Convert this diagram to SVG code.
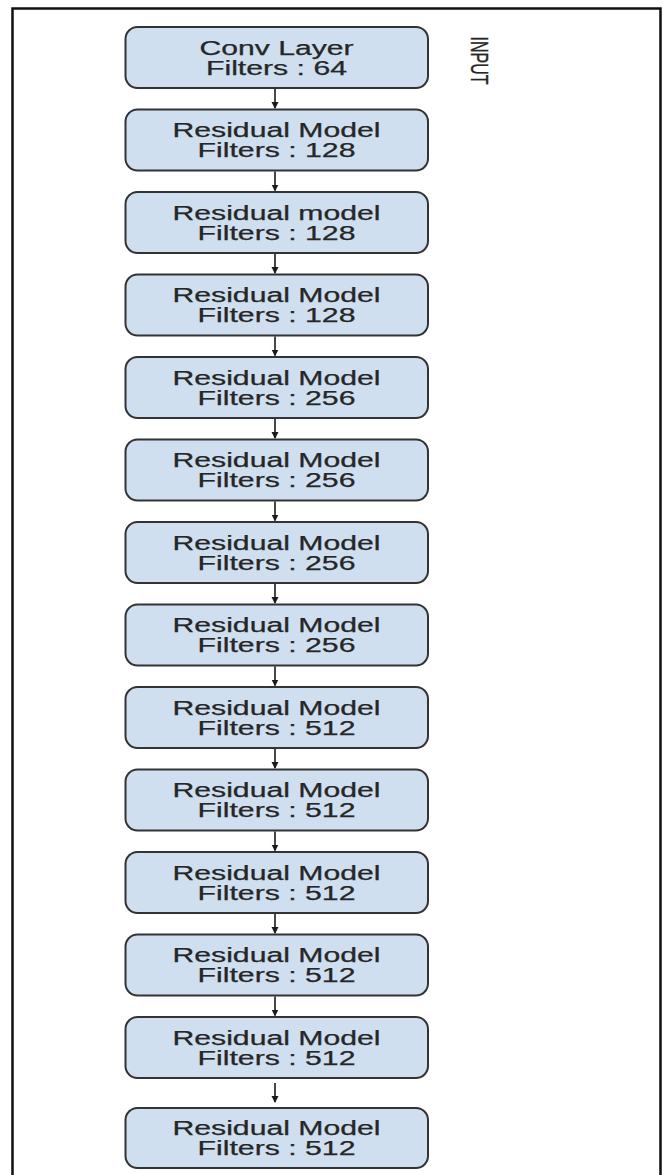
<svg xmlns="http://www.w3.org/2000/svg" width="665" height="1175" viewBox="0 0 665 1175">
<style>
.box{fill:#cfdff0;stroke:#333333;stroke-width:2}
.t{font-family:"Liberation Sans",Arial,sans-serif;font-size:19.5px;fill:#262626;text-anchor:middle;stroke:#262626;stroke-width:0.25}
.c{stroke:#1a1a1a;stroke-width:1.6;fill:none;marker-end:url(#ah)}
</style>
<defs>
<marker id="ah" markerWidth="8" markerHeight="8" refX="6" refY="3.5" orient="auto" markerUnits="userSpaceOnUse">
<path d="M0,0 L7,3.5 L0,7 z" fill="#1a1a1a"/>
</marker>
</defs>
<rect width="665" height="1175" fill="#ffffff"/>
<path d="M12.5,1180 V8.5 H660.5 V1180" fill="none" stroke="#111" stroke-width="2.5"/>
<g id="input-label">
<text class="t" style="font-size:16px" transform="translate(479.5,60.5) scale(1.55,1) rotate(90)" x="0" y="5.7">INPUT</text>
</g>
<g id="n1"><rect class="box" x="125.5" y="27" width="302.5" height="61" rx="12"/>
<text class="t" x="276.5" y="54.5" textLength="154" lengthAdjust="spacingAndGlyphs">Conv Layer</text>
<text class="t" x="276.5" y="74.5" textLength="141" lengthAdjust="spacingAndGlyphs">Filters : 64</text></g>
<g id="n2"><rect class="box" x="125.5" y="109.5" width="302.5" height="61" rx="12"/>
<text class="t" x="276.5" y="137" textLength="208" lengthAdjust="spacingAndGlyphs">Residual Model</text>
<text class="t" x="276.5" y="157" textLength="158" lengthAdjust="spacingAndGlyphs">Filters : 128</text></g>
<g id="n3"><rect class="box" x="125.5" y="192" width="302.5" height="61" rx="12"/>
<text class="t" x="276.5" y="219.5" textLength="208" lengthAdjust="spacingAndGlyphs">Residual model</text>
<text class="t" x="276.5" y="239.5" textLength="158" lengthAdjust="spacingAndGlyphs">Filters : 128</text></g>
<g id="n4"><rect class="box" x="125.5" y="274.5" width="302.5" height="61" rx="12"/>
<text class="t" x="276.5" y="302" textLength="208" lengthAdjust="spacingAndGlyphs">Residual Model</text>
<text class="t" x="276.5" y="322" textLength="158" lengthAdjust="spacingAndGlyphs">Filters : 128</text></g>
<g id="n5"><rect class="box" x="125.5" y="357" width="302.5" height="61" rx="12"/>
<text class="t" x="276.5" y="384.5" textLength="208" lengthAdjust="spacingAndGlyphs">Residual Model</text>
<text class="t" x="276.5" y="404.5" textLength="158" lengthAdjust="spacingAndGlyphs">Filters : 256</text></g>
<g id="n6"><rect class="box" x="125.5" y="439.5" width="302.5" height="61" rx="12"/>
<text class="t" x="276.5" y="467" textLength="208" lengthAdjust="spacingAndGlyphs">Residual Model</text>
<text class="t" x="276.5" y="487" textLength="158" lengthAdjust="spacingAndGlyphs">Filters : 256</text></g>
<g id="n7"><rect class="box" x="125.5" y="522" width="302.5" height="61" rx="12"/>
<text class="t" x="276.5" y="549.5" textLength="208" lengthAdjust="spacingAndGlyphs">Residual Model</text>
<text class="t" x="276.5" y="569.5" textLength="158" lengthAdjust="spacingAndGlyphs">Filters : 256</text></g>
<g id="n8"><rect class="box" x="125.5" y="604.5" width="302.5" height="61" rx="12"/>
<text class="t" x="276.5" y="632" textLength="208" lengthAdjust="spacingAndGlyphs">Residual Model</text>
<text class="t" x="276.5" y="652" textLength="158" lengthAdjust="spacingAndGlyphs">Filters : 256</text></g>
<g id="n9"><rect class="box" x="125.5" y="687" width="302.5" height="61" rx="12"/>
<text class="t" x="276.5" y="714.5" textLength="208" lengthAdjust="spacingAndGlyphs">Residual Model</text>
<text class="t" x="276.5" y="734.5" textLength="158" lengthAdjust="spacingAndGlyphs">Filters : 512</text></g>
<g id="n10"><rect class="box" x="125.5" y="769.5" width="302.5" height="61" rx="12"/>
<text class="t" x="276.5" y="797" textLength="208" lengthAdjust="spacingAndGlyphs">Residual Model</text>
<text class="t" x="276.5" y="817" textLength="158" lengthAdjust="spacingAndGlyphs">Filters : 512</text></g>
<g id="n11"><rect class="box" x="125.5" y="852" width="302.5" height="61" rx="12"/>
<text class="t" x="276.5" y="879.5" textLength="208" lengthAdjust="spacingAndGlyphs">Residual Model</text>
<text class="t" x="276.5" y="899.5" textLength="158" lengthAdjust="spacingAndGlyphs">Filters : 512</text></g>
<g id="n12"><rect class="box" x="125.5" y="934.5" width="302.5" height="61" rx="12"/>
<text class="t" x="276.5" y="962" textLength="208" lengthAdjust="spacingAndGlyphs">Residual Model</text>
<text class="t" x="276.5" y="982" textLength="158" lengthAdjust="spacingAndGlyphs">Filters : 512</text></g>
<g id="n13"><rect class="box" x="125.5" y="1017" width="302.5" height="61" rx="12"/>
<text class="t" x="276.5" y="1044.5" textLength="208" lengthAdjust="spacingAndGlyphs">Residual Model</text>
<text class="t" x="276.5" y="1064.5" textLength="158" lengthAdjust="spacingAndGlyphs">Filters : 512</text></g>
<g id="n14"><rect class="box" x="125.5" y="1108" width="302.5" height="60" rx="12"/>
<text class="t" x="276.5" y="1135" textLength="208" lengthAdjust="spacingAndGlyphs">Residual Model</text>
<text class="t" x="276.5" y="1155" textLength="158" lengthAdjust="spacingAndGlyphs">Filters : 512</text></g>
<g id="connectors">
<line class="c" x1="275" y1="89" x2="275" y2="108"/>
<line class="c" x1="275" y1="171.5" x2="275" y2="190.5"/>
<line class="c" x1="275" y1="254" x2="275" y2="273"/>
<line class="c" x1="275" y1="336.5" x2="275" y2="355.5"/>
<line class="c" x1="275" y1="419" x2="275" y2="438"/>
<line class="c" x1="275" y1="501.5" x2="275" y2="520.5"/>
<line class="c" x1="275" y1="584" x2="275" y2="603"/>
<line class="c" x1="275" y1="666.5" x2="275" y2="685.5"/>
<line class="c" x1="275" y1="749" x2="275" y2="768"/>
<line class="c" x1="275" y1="831.5" x2="275" y2="850.5"/>
<line class="c" x1="275" y1="914" x2="275" y2="933"/>
<line class="c" x1="275" y1="996.5" x2="275" y2="1015.5"/>
<line class="c" x1="275" y1="1083" x2="275" y2="1102"/>
</g>
</svg>
